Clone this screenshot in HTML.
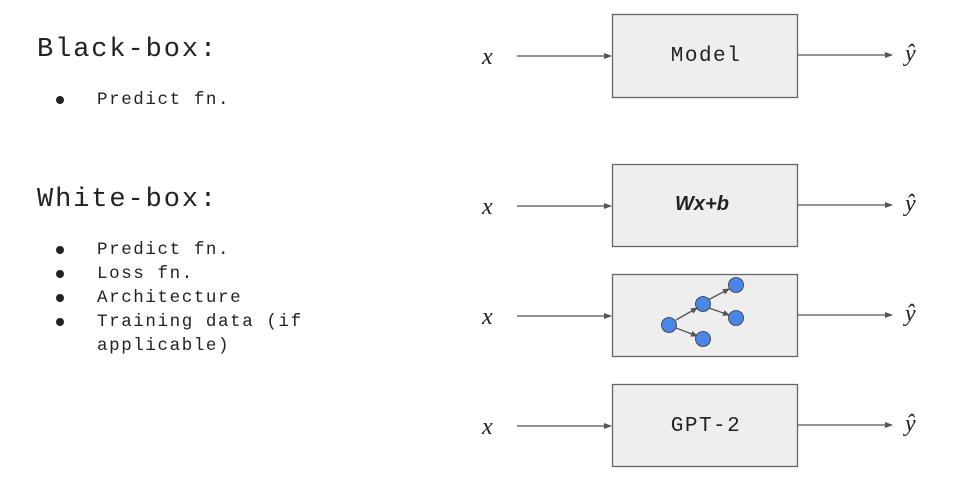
<!DOCTYPE html>
<html><head><style>
body{margin:0;width:969px;height:503px;background:#fff;position:relative;overflow:hidden;font-family:"Liberation Mono",monospace;color:#222}
.h{position:absolute;left:37px;font-size:27px;letter-spacing:1.9px}
.b{position:absolute;left:97px;font-size:17.5px;line-height:24px;letter-spacing:1.6px}
.d{position:absolute;left:56px;width:8px;height:8px;border-radius:50%;background:#222}
</style></head><body>
<div class="h" style="top:35px">Black-box:</div>
<div class="d" style="top:96px"></div>
<div class="b" style="top:88px">Predict fn.</div>
<div class="h" style="top:185px">White-box:</div>
<div class="d" style="top:246px"></div><div class="d" style="top:270px"></div><div class="d" style="top:294px"></div><div class="d" style="top:318px"></div>
<div class="b" style="top:238px">Predict fn.<br>Loss fn.<br>Architecture<br>Training data (if<br>applicable)</div>
<svg width="969" height="503" style="position:absolute;left:0;top:0">
<defs><marker id="a" markerWidth="8" markerHeight="8" refX="7" refY="4" orient="auto" markerUnits="userSpaceOnUse"><path d="M0,1 L8,4 L0,7z" fill="#555"/></marker>
<marker id="s" markerWidth="7" markerHeight="7" refX="6" refY="3.5" orient="auto" markerUnits="userSpaceOnUse"><path d="M0,0.5 L7,3.5 L0,6.5z" fill="#555"/></marker></defs>
<g fill="#eeeeee" stroke="#666" stroke-width="1.3">
<rect x="612.5" y="14.5" width="185" height="83"/>
<rect x="612.5" y="164.5" width="185" height="82"/>
<rect x="612.5" y="274.5" width="185" height="82"/>
<rect x="612.5" y="384.5" width="185" height="82"/>
</g>
<g stroke="#555" stroke-width="1.3" marker-end="url(#a)">
<line x1="517" y1="56" x2="611" y2="56"/><line x1="798" y1="55" x2="892" y2="55"/>
<line x1="517" y1="206" x2="611" y2="206"/><line x1="798" y1="205" x2="892" y2="205"/>
<line x1="517" y1="316" x2="611" y2="316"/><line x1="798" y1="315" x2="892" y2="315"/>
<line x1="517" y1="426" x2="611" y2="426"/><line x1="798" y1="425" x2="892" y2="425"/>
</g>
<g font-family="Liberation Serif,serif" font-style="italic" font-size="24" fill="#222">
<text x="482" y="64">x</text><text x="482" y="214">x</text><text x="482" y="324">x</text><text x="482" y="434">x</text>
<text x="905" y="61">ŷ</text><text x="905" y="211">ŷ</text><text x="905" y="321">ŷ</text><text x="905" y="431">ŷ</text>
</g>
<g font-family="Liberation Mono,monospace" font-size="21" fill="#222" text-anchor="middle" letter-spacing="1.5">
<text x="706" y="61">Model</text><text x="706" y="431">GPT-2</text>
</g>
<text x="702" y="210" text-anchor="middle" font-family="Liberation Sans,sans-serif" font-weight="bold" font-style="italic" font-size="20" fill="#222">Wx+b</text>
<g stroke="#555" stroke-width="1.3" marker-end="url(#s)">
<line x1="676" y1="320" x2="697" y2="308"/><line x1="676" y1="328" x2="697" y2="336"/>
<line x1="708" y1="300" x2="729" y2="289"/><line x1="709" y1="308" x2="729" y2="315"/>
</g>
<g fill="#4a86e8" stroke="#333" stroke-width="0.8">
<circle cx="669" cy="325" r="7.5"/><circle cx="703" cy="304" r="7.5"/><circle cx="736" cy="285" r="7.5"/><circle cx="736" cy="318" r="7.5"/><circle cx="703" cy="339" r="7.5"/>
</g>
</svg>
</body></html>
